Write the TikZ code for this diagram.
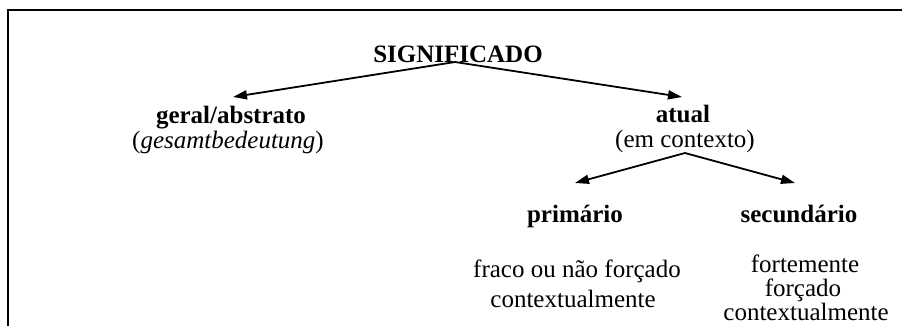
\documentclass[tikz,border=0pt]{standalone}
\usepackage{fontspec}
\setmainfont{Liberation Serif}
\usetikzlibrary{arrows.meta}
\begin{document}
\begin{tikzpicture}[x=1bp,y=-1bp,
  txt/.style={inner sep=0pt, anchor=base, font=\fontsize{25bp}{30bp}\selectfont},
  hd/.style={txt, font=\fontsize{25bp}{30bp}\selectfont\bfseries},
  arr/.style={line width=1.8bp, -{Triangle[length=14bp,width=9bp]}},
  frameline/.style={line width=2bp}]
\useasboundingbox (0,0) rectangle (902,325);
\coordinate (fbl) at (7.5,326);
\coordinate (ftl) at (7.5,10);
\coordinate (ftr) at (903,10);
\draw[frameline] (fbl) -- (ftl) -- (ftr);

\node[hd] (sig) at (458,62) {SIGNIFICADO};
\node[hd] (geral) at (231,123) {geral/abstrato};
\node[txt] (gesamt) at (228,148) {(\textit{gesamtbedeutung})};
\node[hd] (atual) at (683,122) {atual};
\node[txt] (emctx) at (685,147) {(em contexto)};
\node[hd] (prim) at (575,222) {primário};
\node[hd] (sec) at (799,222) {secundário};
\node[txt] (prim1) at (577,277) {fraco ou não forçado};
\node[txt] (prim2) at (573,307) {contextualmente};
\node[txt] (sec1) at (805,272) {fortemente};
\node[txt] (sec2) at (803,296) {forçado};
\node[txt] (sec3) at (806,320) {contextualmente};

\coordinate (sigfoot) at (455,62);
\coordinate (geraltop) at (233,97);
\coordinate (atualtop) at (682,97);
\coordinate (ctxfoot) at (685,153);
\coordinate (primtop) at (575,183);
\coordinate (sectop) at (795,183);

\draw[arr] (sigfoot) -- (geraltop);
\draw[arr] (sigfoot) -- (atualtop);
\draw[arr] (ctxfoot) -- (primtop);
\draw[arr] (ctxfoot) -- (sectop);
\end{tikzpicture}
\end{document}
